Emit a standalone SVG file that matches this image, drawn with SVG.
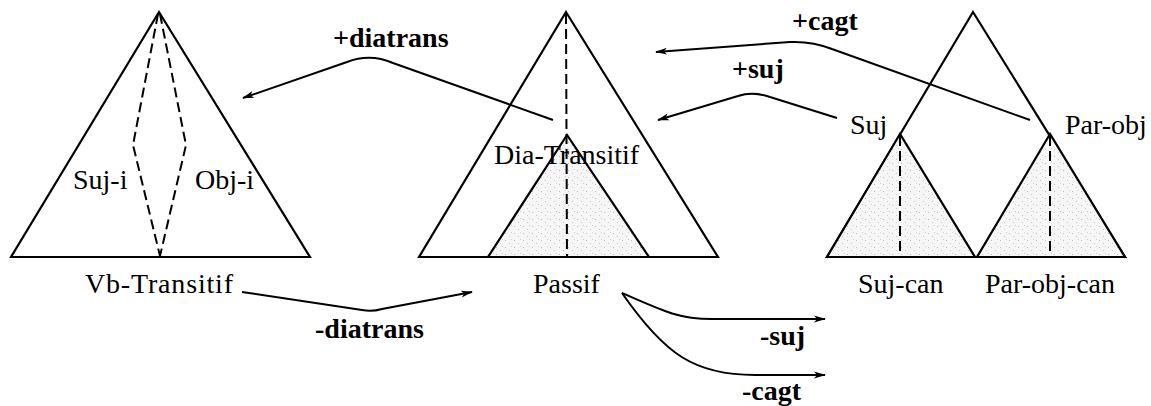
<svg xmlns="http://www.w3.org/2000/svg" width="1151" height="406" viewBox="0 0 1151 406">
<style>
.t{font-family:"Liberation Serif","Times New Roman",serif;font-size:28px;fill:#000}
.b{font-family:"Liberation Serif","Times New Roman",serif;font-size:28px;font-weight:bold;fill:#000}
.tri{fill:none;stroke:#000;stroke-width:2.2;stroke-linejoin:miter}
.sub{fill:url(#stip);stroke:#000;stroke-width:2.2}
.dash{fill:none;stroke:#000;stroke-width:2;stroke-dasharray:10 5}
.con{fill:none;stroke:#000;stroke-width:2;marker-end:url(#ah)}
</style>
<defs>
<pattern id="stip" width="9" height="7" patternUnits="userSpaceOnUse">
<rect width="9" height="7" fill="#f6f6f6"/>
<rect x="1" y="2" width="1" height="1" fill="#bbb"/>
<rect x="5" y="5" width="1" height="1" fill="#c8c8c8"/>
<rect x="7" y="1" width="1" height="1" fill="#d0d0d0"/>
</pattern>
<marker id="ah" viewBox="0 0 12 8" refX="11" refY="4" markerWidth="12" markerHeight="8" markerUnits="userSpaceOnUse" orient="auto">
<path d="M0,0.5 L12,4 L0,7.5 L3,4 Z" fill="#000"/>
</marker>
</defs>
<g id="vb-transitif">
<polygon class="tri" points="159,12 11,257 310,257"/>
<path class="dash" d="M158,14 L133,145 L160,256"/>
<path class="dash" d="M160,14 L186,145 L160,256"/>
<text class="t" x="73" y="189">Suj-i</text>
<text class="t" x="195" y="189">Obj-i</text>
<text class="t" x="85" y="293" textLength="148">Vb-Transitif</text>
</g>
<g id="passif">
<polygon class="tri" points="566,12 419,257 718,257"/>
<polygon class="sub" points="567,135 488,257 649,257"/>
<line class="dash" x1="566" y1="14" x2="567" y2="256"/>
<text class="t" x="494" y="164">Dia-Transitif</text>
<text class="t" x="533" y="293">Passif</text>
</g>
<g id="canonique">
<polygon class="tri" points="973,12 827,257 1125,257"/>
<polygon class="sub" points="900,134 827,257 975,257"/>
<polygon class="sub" points="1050,134 977,257 1125,257"/>
<line class="dash" x1="900" y1="136" x2="900" y2="256"/>
<line class="dash" x1="1050" y1="136" x2="1050" y2="256"/>
<text class="t" x="850" y="134">Suj</text>
<text class="t" x="1065" y="134">Par-obj</text>
<text class="t" x="858" y="293">Suj-can</text>
<text class="t" x="985" y="293">Par-obj-can</text>
</g>
<g id="connectors">
<path class="con" d="M553,120 L393,63 Q370,53 347,62 L243,98"/>
<text class="b" x="333" y="47">+diatrans</text>
<path class="con" d="M1030,120 L832,49 Q812,41 790,42 L656,52"/>
<text class="b" x="792" y="30">+cagt</text>
<path class="con" d="M837,118 L770,97 Q753,91 738,96 L658,120"/>
<text class="b" x="732" y="78">+suj</text>
<path class="con" d="M242,292 L362,310 Q372,312 382,309 L472,292"/>
<text class="b" x="315" y="338">-diatrans</text>
<path class="con" d="M622,293 C665,312 680,319 712,319 L825,319"/>
<text class="b" x="760" y="345">-suj</text>
<path class="con" d="M622,293 C665,355 695,375 755,375 L825,375"/>
<text class="b" x="742" y="400">-cagt</text>
</g>
</svg>
